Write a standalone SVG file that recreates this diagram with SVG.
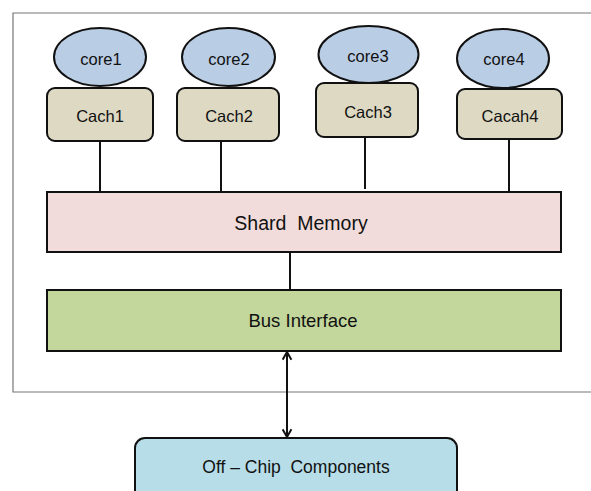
<svg xmlns="http://www.w3.org/2000/svg" width="591" height="491" viewBox="0 0 591 491">
  <defs>
    <style>
      text { font-family: "Liberation Sans", Arial, sans-serif; fill: #111; text-anchor: middle; }
      .core { fill: #b9cde5; stroke: #111; stroke-width: 2; }
      .cache { fill: #ddd9c3; stroke: #111; stroke-width: 2; }
      .mem { fill: #f2dcdb; stroke: #111; stroke-width: 2; }
      .bus { fill: #c3d69b; stroke: #111; stroke-width: 2; }
      .off { fill: #b7dde8; stroke: #111; stroke-width: 2; }
      .wire { stroke: #111; stroke-width: 2; fill: none; }
      .small { font-size: 16.5px; }
    </style>
    <marker id="arrow" viewBox="0 0 10 10" refX="9" refY="5" markerWidth="11" markerHeight="11" orient="auto-start-reverse" markerUnits="userSpaceOnUse">
      <path d="M2,1 L9,5 L2,9" fill="none" stroke="#111" stroke-width="1.8"/>
    </marker>
  </defs>

  <rect width="591" height="491" fill="#fff"/>
  <!-- chip outline -->
  <path d="M591,13 H13 V392 H591" fill="none" stroke="#777" stroke-width="1.2"/>

  <g id="connectors">
    <line class="wire" x1="100" y1="141" x2="100" y2="192"/>
    <line class="wire" x1="221" y1="141" x2="221" y2="192"/>
    <line class="wire" x1="365" y1="137" x2="365" y2="189"/>
    <line class="wire" x1="509" y1="139" x2="509" y2="192"/>
    <line class="wire" x1="290" y1="252" x2="290" y2="290"/>
    <line class="wire" x1="287" y1="352" x2="287" y2="437" marker-start="url(#arrow)" marker-end="url(#arrow)"/>
  </g>

  <g id="core1">
    <ellipse class="core" cx="100" cy="57" rx="46" ry="29"/>
    <text class="small" x="101" y="65">core1</text>
  </g>
  <g id="cache1">
    <rect class="cache" x="47" y="88" width="106" height="53" rx="8"/>
    <text class="small" x="100" y="122">Cach1</text>
  </g>

  <g id="core2">
    <ellipse class="core" cx="228.5" cy="57" rx="46.5" ry="29"/>
    <text class="small" x="229" y="65">core2</text>
  </g>
  <g id="cache2">
    <rect class="cache" x="177" y="88" width="102" height="53" rx="8"/>
    <text class="small" x="229" y="122">Cach2</text>
  </g>

  <g id="core3">
    <ellipse class="core" cx="368.5" cy="54.5" rx="50" ry="28.5"/>
    <text class="small" x="368" y="62">core3</text>
  </g>
  <g id="cache3">
    <rect class="cache" x="316" y="83" width="102" height="54" rx="8"/>
    <text class="small" x="368" y="118">Cach3</text>
  </g>

  <g id="core4">
    <ellipse class="core" cx="503" cy="58.5" rx="46" ry="29.5"/>
    <text class="small" x="504" y="65">core4</text>
  </g>
  <g id="cache4">
    <rect class="cache" x="457" y="89" width="105" height="50" rx="8"/>
    <text class="small" x="510" y="122">Cacah4</text>
  </g>

  <g id="shared-memory">
    <rect class="mem" x="47" y="192" width="514" height="60"/>
    <text x="301" y="230" font-size="19.5" xml:space="preserve">Shard  Memory</text>
  </g>

  <g id="bus-interface">
    <rect class="bus" x="47" y="290" width="514" height="61"/>
    <text x="303" y="327" font-size="18.5">Bus Interface</text>
  </g>

  <g id="off-chip">
    <rect class="off" x="135" y="438" width="322" height="70" rx="10"/>
    <text x="296" y="473" font-size="17.5" xml:space="preserve">Off – Chip  Components</text>
  </g>
</svg>
